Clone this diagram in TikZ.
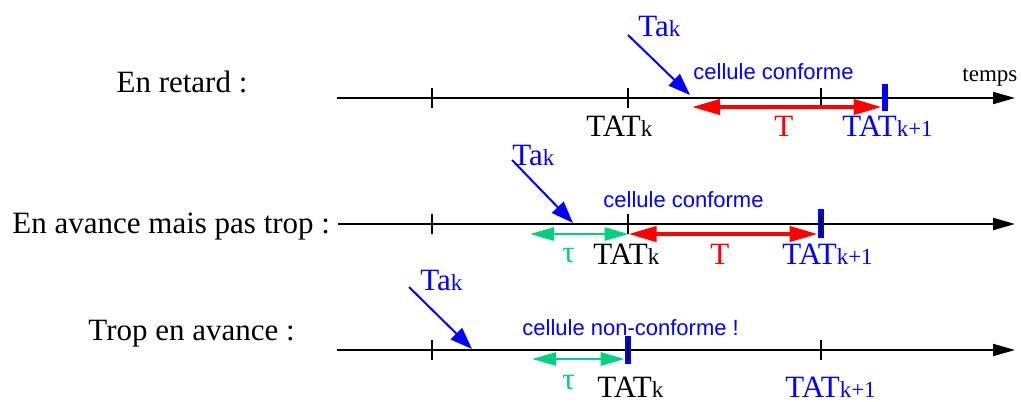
\documentclass[tikz,border=0pt]{standalone}
\usepackage{fontspec}
\setmainfont{Liberation Serif}
\newfontfamily\cellfont{Liberation Sans}
\usetikzlibrary{arrows.meta}
\definecolor{vert}{RGB}{0,208,128}

\newcommand{\indk}[1]{{\fontsize{11.5}{13}\selectfont #1}}

\begin{document}
\begin{tikzpicture}[x=0.5pt,y=-0.5pt,
	axe/.style={line width=1pt,-{Triangle[length=11pt,width=6pt]}},
	tick/.style={line width=1pt},
	arrivee/.style={blue,line width=1pt,-{Triangle[length=11pt,width=8pt]}},
	periode/.style={red,line width=2pt,{Triangle[length=14pt,width=7.5pt]}-{Triangle[length=14pt,width=7.5pt]}},
	tolerance/.style={vert,line width=1.3pt,{Triangle[length=12pt,width=6.5pt]}-{Triangle[length=12pt,width=6.5pt]}},
	barre/.style={draw=blue,fill=blue,minimum width=2.5pt,inner sep=0pt},
	lbl/.style={inner sep=0pt,anchor=base west,font=\fontsize{15.5}{18}\selectfont},
	cell/.style={inner sep=0pt,anchor=base west,blue,font=\cellfont\fontsize{11}{13}\selectfont}]
	\useasboundingbox (0,0) rectangle (1021,401);
	
	% en retard
	\coordinate (a1s) at (337,98);
	\coordinate (a1e) at (1015,98);
	\draw[axe] (a1s) -- (a1e);
	\node[lbl,anchor=base] (ret) at (182,92) {En retard :};
	\node[inner sep=0pt,anchor=base west,font=\fontsize{11.5}{13}\selectfont] (tps) at (962,82) {temps};
	\draw[tick] (432,88) -- (432,108);
	\draw[tick] (628,88) -- (628,108);
	\draw[tick] (821,88) -- (821,108);
	\node[barre,minimum height=13pt] (b1) at (884.5,97) {};
	\coordinate (r1s) at (692,107);
	\draw[periode] (r1s) -- (b1.west |- r1s);
	\coordinate (d1) at (628,35);
	\coordinate (f1) at (690,95);
	\draw[arrivee] (d1) -- (f1);
	\node[lbl,blue] (ta1) at (638,37) {Ta\indk{k}};
	\node[cell] (c1) at (693,80) {cellule conforme};
	\node[lbl] (tat1) at (586,136) {TAT\indk{k}};
	\node[lbl,red] (T1) at (774,136) {T};
	\node[lbl,blue] (tatn1) at (842,136) {TAT\indk{k+1}};
	
	% en avance mais pas trop
	\coordinate (a2s) at (338,224);
	\coordinate (a2e) at (1015,224);
	\draw[axe] (a2s) -- (a2e);
	\node[lbl] (avc) at (12,233) {En avance mais pas trop :};
	\draw[tick] (432,214) -- (432,234);
	\node[barre,minimum height=14pt] (b2) at (820.5,223) {};
	\draw[tick] (628,214) -- (628,234);
	\draw[tick] (821,214) -- (821,234);
	\coordinate (g2s) at (530,234);
	\coordinate (k2) at (628.5,234);
	\draw[tolerance] (g2s) -- (k2);
	\draw[periode] (k2) -- (b2.west |- k2);
	\coordinate (d2) at (512,160);
	\coordinate (f2) at (573,223);
	\draw[arrivee] (d2) -- (f2);
	\node[lbl,blue] (ta2) at (512,165) {Ta\indk{k}};
	\node[cell] (c2) at (603,207) {cellule conforme};
	\node[lbl,vert] (tau2) at (562,262) {τ};
	\node[lbl] (tat2) at (593,264) {TAT\indk{k}};
	\node[lbl,red] (T2) at (710,264) {T};
	\node[lbl,blue] (tatn2) at (782,264) {TAT\indk{k+1}};
	
	% trop en avance
	\coordinate (a3s) at (337,350);
	\coordinate (a3e) at (1015,350);
	\draw[axe] (a3s) -- (a3e);
	\node[lbl] (trop) at (88,340) {Trop en avance :};
	\draw[tick] (432,340) -- (432,360);
	\draw[tick] (821,340) -- (821,360);
	\node[barre,minimum height=13.5pt] (b3) at (627.5,349.5) {};
	\draw[tick] (628,340) -- (628,360);
	\coordinate (g3s) at (532,359);
	\draw[tolerance] (g3s) -- (b3.west |- g3s);
	\coordinate (d3) at (409,287);
	\coordinate (f3) at (472,349);
	\draw[arrivee] (d3) -- (f3);
	\node[lbl,blue] (ta3) at (420,290) {Ta\indk{k}};
	\node[cell] (c3) at (522,335) {cellule non-conforme !};
	\node[lbl,vert] (tau3) at (562,389) {τ};
	\node[lbl] (tat3) at (597,397) {TAT\indk{k}};
	\node[lbl,blue] (tatn3) at (785,397) {TAT\indk{k+1}};
\end{tikzpicture}
\end{document}
